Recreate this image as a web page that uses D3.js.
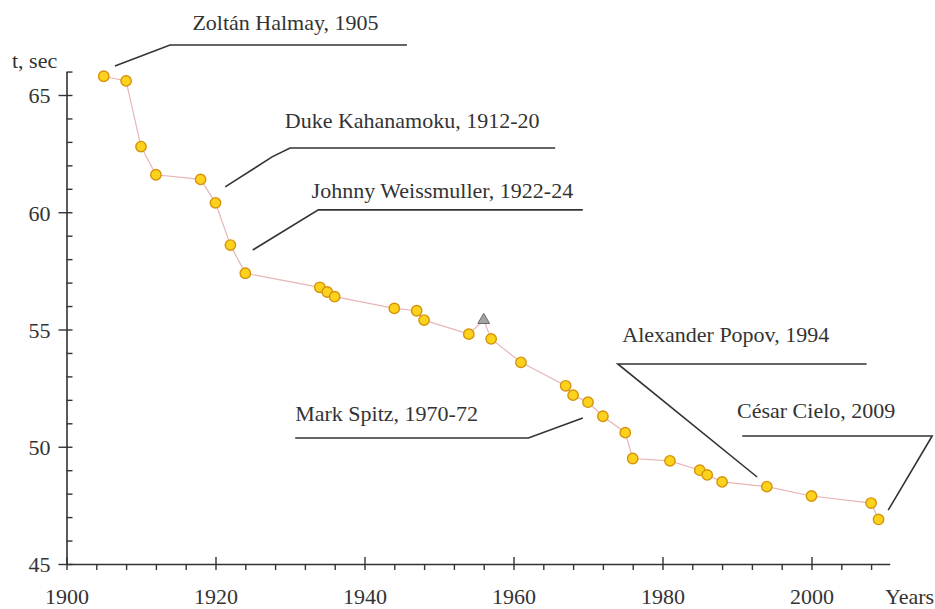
<!DOCTYPE html>
<html>
<head>
<meta charset="utf-8">
<script src="https://cdn.jsdelivr.net/npm/d3@7"></script>
<style>
  html, body { margin: 0; padding: 0; background: #fff; }
  svg { display: block; }
  svg text { font-family: "Liberation Serif", Tinos, "Nimbus Roman", "DejaVu Serif", serif !important; fill: #333; }
</style>
</head>
<body>
<svg id="chart" width="935" height="609"></svg>
<script>
// ---- data ----
const years = [1905, 1908, 1910, 1912, 1918, 1920, 1922, 1924, 1934, 1935, 1936, 1944, 1947, 1948, 1954, 1957, 1961, 1967, 1968, 1970, 1972, 1975, 1976, 1981, 1985, 1986, 1988, 1994, 2000, 2008, 2009];
const times = [65.8, 65.6, 62.8, 61.6, 61.4, 60.4, 58.6, 57.4, 56.8, 56.6, 56.4, 55.9, 55.8, 55.4, 54.8, 54.6, 53.6, 52.6, 52.2, 51.9, 51.3, 50.6, 49.5, 49.4, 49.0, 48.8, 48.5, 48.3, 47.9, 47.6, 46.9];
const unratifiedYears = [1956];
const unratifiedTimes = [55.4];
const xMajorTicks = [1900, 1920, 1940, 1960, 1980, 2000];
const yMajorTicks = [45, 50, 55, 60, 65];
const annotationLabels = ["Zoltán Halmay, 1905", "Duke Kahanamoku, 1912-20", "Johnny Weissmuller, 1922-24", "Mark Spitz, 1970-72", "Alexander Popov, 1994", "César Cielo, 2009"];
const xTitle = "Years";
const yTitle = "t, sec";

// ---- layout ----
const FONT = '"Liberation Serif", Tinos, "Nimbus Roman", "DejaVu Serif", serif';
const svg = d3.select("#chart");
const x = d3.scaleLinear().domain([1900, 2010.5]).range([66.5, 66.5 + 110.5 * 7.45]);
const y = d3.scaleLinear().domain([45, 66]).range([564, 564 - 21 * 23.45]);
const axisColor = "#333";

// annotation layout in data coordinates: text anchor + leader polyline
const annLayout = [
  { t: [1916.9, 67.77], pts: [[1906.5, 66.24], [1913.9, 67.13], [1945.7, 67.13]] },
  { t: [1929.3, 63.59], pts: [[1921.3, 61.08], [1927.6, 62.36], [1930.0, 62.74], [1965.6, 62.74]] },
  { t: [1932.9, 60.61], pts: [[1925.0, 58.39], [1933.8, 60.10], [1969.3, 60.10]] },
  { t: [1930.7, 51.10], pts: [[1930.7, 50.37], [1962.0, 50.37], [1969.3, 51.23]] },
  { t: [1974.6, 54.47], pts: [[1992.7, 48.71], [1974.0, 53.53], [2007.4, 53.53]] },
  { t: [1990.0, 51.23], pts: [[1990.7, 50.46], [2016.2, 50.46], [2010.3, 47.30]] }
];

// ---- axes ----
const minorX = d3.range(1904, 2010, 4).filter(v => !xMajorTicks.includes(v));
const minorY = d3.range(46, 66.01, 1).filter(v => !yMajorTicks.includes(v));

const gx = svg.append("g").attr("transform", `translate(0,${y(45)})`);
gx.call(d3.axisBottom(x).tickValues(minorX).tickSize(6).tickSizeOuter(0).tickFormat(""))
  .call(g => g.select(".domain").remove());
const gxMaj = svg.append("g").attr("transform", `translate(0,${y(45)})`);
gxMaj.call(d3.axisBottom(x).tickValues(xMajorTicks).tickSize(6).tickSizeOuter(0).tickFormat(d3.format("d")));
gxMaj.attr("font-family", FONT).attr("font-size", 22);
gxMaj.selectAll(".tick line").attr("y1", -7);
gxMaj.selectAll(".tick text").attr("y", 40).attr("dy", 0).attr("fill", "#333");
[gx, gxMaj].forEach(g => {
  g.selectAll("line").attr("stroke", axisColor).attr("stroke-width", 1.4);
  g.selectAll(".domain").attr("stroke", axisColor).attr("stroke-width", 1.6);
});

const gy = svg.append("g").attr("transform", `translate(${x(1900)},0)`);
gy.call(d3.axisRight(y).tickValues(minorY).tickSize(6).tickSizeOuter(0).tickFormat(""))
  .call(g => g.select(".domain").remove());
const gyMaj = svg.append("g").attr("transform", `translate(${x(1900)},0)`);
gyMaj.call(d3.axisLeft(y).tickValues(yMajorTicks).tickSize(8).tickSizeOuter(0).tickFormat(d3.format("d")));
gyMaj.attr("font-family", FONT).attr("font-size", 22);
gyMaj.selectAll(".tick line").attr("x1", 6);
gyMaj.selectAll(".tick text").attr("x", -16).attr("dy", "0.36em").attr("fill", "#333");
[gy, gyMaj].forEach(g => {
  g.selectAll("line").attr("stroke", axisColor).attr("stroke-width", 1.4);
  g.selectAll(".domain").attr("stroke", axisColor).attr("stroke-width", 1.6);
});

svg.append("text").attr("x", 12).attr("y", 68).attr("font-family", FONT).attr("font-size", 22).text(yTitle);
svg.append("text").attr("x", 885).attr("y", 604).attr("font-family", FONT).attr("font-size", 22).text(xTitle);

// ---- series line ----
const all = years.map((yr, i) => ({ yr, t: times[i] }))
  .concat(unratifiedYears.map((yr, i) => ({ yr, t: unratifiedTimes[i], u: true })))
  .sort((a, b) => a.yr - b.yr);
svg.append("path")
  .datum(all)
  .attr("fill", "none")
  .attr("stroke", "#e7b5b5")
  .attr("stroke-width", 1.2)
  .attr("d", d3.line().x(d => x(d.yr)).y(d => y(d.t)));

// ---- annotations ----
const annG = svg.append("g");
annLayout.forEach((a, i) => {
  annG.append("path")
    .attr("fill", "none")
    .attr("stroke", "#333")
    .attr("stroke-width", 1.6)
    .attr("d", d3.line().x(p => x(p[0])).y(p => y(p[1]))(a.pts));
  annG.append("text")
    .attr("x", x(a.t[0])).attr("y", y(a.t[1]))
    .attr("font-family", FONT).attr("font-size", 22)
    .text(annotationLabels[i]);
});

// ---- points ----
svg.append("g").selectAll("circle")
  .data(years.map((yr, i) => ({ yr, t: times[i] })))
  .join("circle")
  .attr("cx", d => x(d.yr))
  .attr("cy", d => y(d.t))
  .attr("r", 5.2)
  .attr("fill", "#fcd21c")
  .attr("stroke", "#d6930a")
  .attr("stroke-width", 1.4);

svg.append("g").selectAll("path")
  .data(unratifiedYears.map((yr, i) => ({ yr, t: unratifiedTimes[i] })))
  .join("path")
  .attr("transform", d => `translate(${x(d.yr)},${y(d.t)})`)
  .attr("d", d3.symbol(d3.symbolTriangle, 60))
  .attr("fill", "#a3a3a3")
  .attr("stroke", "#6a6a6a")
  .attr("stroke-width", 1);
</script>
</body>
</html>
